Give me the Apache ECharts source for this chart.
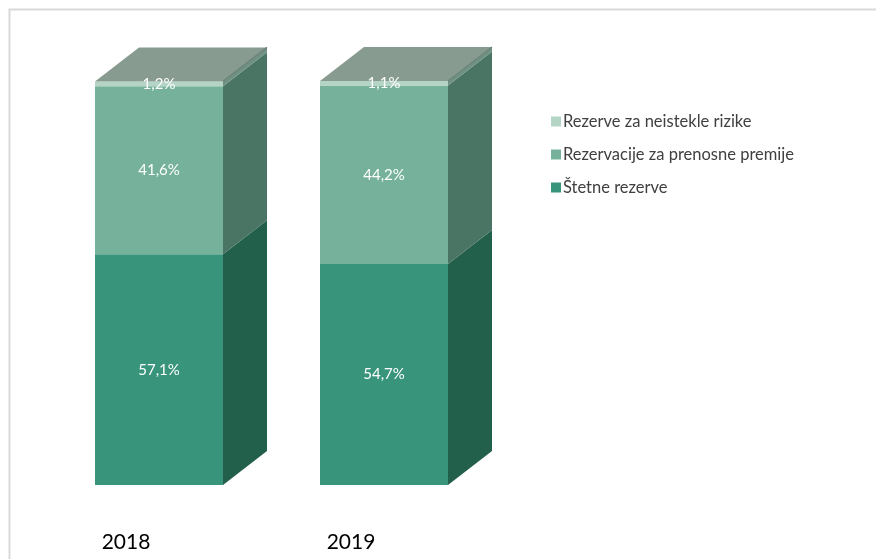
<!DOCTYPE html>
<html><head><meta charset="utf-8">
<script src="https://cdn.jsdelivr.net/npm/echarts@6/dist/echarts.min.js"></script>
<style>html,body{margin:0;padding:0;background:#fff}#c{width:876px;height:559px}</style>
</head><body><div id="c"></div>
<script>
const categories = ['2018', '2019'];
const seriesNames = ['Štetne rezerve', 'Rezervacije za prenosne premije', 'Rezerve za neistekle rizike'];
const stetneRezerve = [57.1, 54.7];
const rezervacijePrenosne = [41.6, 44.2];
const rezerveNeistekle = [1.2, 1.1];
const legendOrder = ['Rezerve za neistekle rizike', 'Rezervacije za prenosne premije', 'Štetne rezerve'];

const frontColors = ['#38957b', '#76b29b', '#b4d4c6'];
const sideColors = ['#22604c', '#4a7464', '#6f9183'];
const topColor = '#889b91';
const DX = 44, DY = 34;

const values = [stetneRezerve, rezervacijePrenosne, rezerveNeistekle];
const chart = echarts.init(document.getElementById('c'));

const series = values.map((arr, si) => {
  const data = arr.map((v, ci) => {
    let base = 0;
    for (let k = 0; k < si; k++) base += values[k][ci];
    return [ci, base, base + v, v];
  });
  const isLast = si === values.length - 1;
  return {
    type: 'custom',
    name: seriesNames[si],
    color: frontColors[si],
    data: data,
    encode: { x: 0, y: [1, 2] },
    renderItem: function (params, api) {
      const ci = api.value(0), b = api.value(1), t = api.value(2), v = api.value(3);
      const pB = api.coord([ci, b]);
      const pT = api.coord([ci, t]);
      const w = 128;
      const x0 = pB[0] - w / 2, x1 = x0 + w;
      const children = [
        { type: 'polygon', shape: { points: [[x1, pB[1]], [x1 + DX, pB[1] - DY], [x1 + DX, pT[1] - DY], [x1, pT[1]]] },
          style: { fill: sideColors[si] } },
        { type: 'rect', shape: { x: x0, y: pT[1], width: w, height: pB[1] - pT[1] },
          style: { fill: frontColors[si] } }
      ];
      if (isLast) {
        children.push({ type: 'polygon', shape: { points: [[x0, pT[1]], [x1, pT[1]], [x1 + DX, pT[1] - DY], [x0 + DX, pT[1] - DY]] },
          style: { fill: topColor } });
        children.push({ type: 'polyline', shape: { points: [[x1, pT[1]], [x1 + DX, pT[1] - DY]] },
          style: { stroke: '#6c8479', lineWidth: 1.5, fill: null } });
      }
      children.push({ type: 'text', z2: 10,
        style: { x: (x0 + x1) / 2, y: (pB[1] + pT[1]) / 2, text: v.toFixed(1).replace('.', ',') + '%',
          fill: '#ffffff', font: '15px Lato', align: 'center', verticalAlign: 'middle' } });
      return { type: 'group', children: children };
    }
  };
});

chart.setOption({
  animation: false,
  backgroundColor: '#ffffff',
  graphic: [{ type: 'rect', shape: { x: 9.5, y: 9.5, width: 900, height: 600 }, z: -10,
    style: { fill: '#ffffff', stroke: '#d9d9d9', lineWidth: 2 } }],
  grid: { left: 46.5, right: 876 - 496.5, top: 81, bottom: 559 - 485 },
  xAxis: { type: 'category', data: categories, axisLine: { show: false }, axisTick: { show: false },
    axisLabel: { fontSize: 21, fontFamily: 'Lato', color: '#000', margin: 47, padding: [0, 66, 0, 0] } },
  yAxis: { type: 'value', min: 0, max: 100, show: false, splitLine: { show: false } },
  legend: { orient: 'vertical', left: 546, top: 108, itemWidth: 10, itemHeight: 10, itemGap: 16,
    icon: 'rect', data: legendOrder,
    textStyle: { fontFamily: 'Lato', fontSize: 16.5, lineHeight: 16, color: '#404040', padding: [0, 0, 0, -3] } },
  series: series
});
</script></body></html>
